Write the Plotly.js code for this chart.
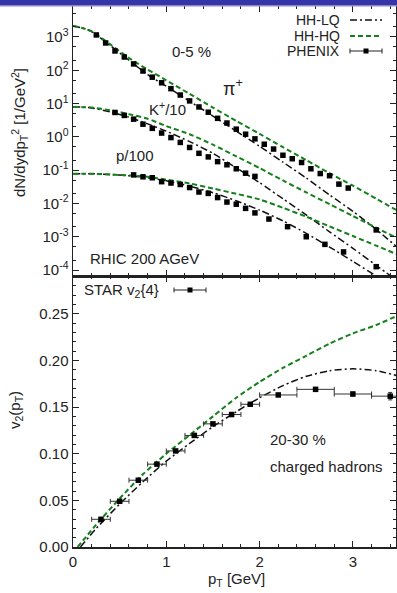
<!DOCTYPE html>
<html><head><meta charset="utf-8">
<script src="https://cdn.plot.ly/plotly-3.0.1.min.js"></script>
<style>html,body{margin:0;padding:0;background:#fff}#plot{width:397px;height:593px}</style>
</head><body><div id="plot"></div>
<script>
// ---- curves (x grid shared) ----
const curveX = [0,0.1,0.2,0.4,0.6,0.8,1.0,1.25,1.5,1.75,2.0,2.25,2.5,2.75,3.0,3.25,3.5];
const pionHQ = [2140,1860,1480,600,234,105,50,19.5,7.6,3.0,1.23,0.49,0.20,0.081,0.034,0.0138,0.0056];
const pionLQ = [2140,1860,1450,550,200,74,33,11.7,4.2,1.48,0.52,0.174,0.058,0.018,0.0058,0.00166,0.00042];
const kaonHQ = [7.9,7.8,7.6,6.3,4.8,3.5,2.1,1.2,0.58,0.26,0.115,0.049,0.0214,0.0095,0.0042,0.00186,0.00083];
const kaonLQ = [7.9,7.8,7.4,5.6,3.9,2.45,1.48,0.72,0.32,0.117,0.042,0.0138,0.0045,0.0014,0.00045,0.000138,0.0000427];
const protHQ = [0.078,0.078,0.078,0.074,0.069,0.063,0.052,0.040,0.028,0.0195,0.0132,0.0074,0.0040,0.00204,0.00105,0.00054,0.000275];
const protLQ = [0.078,0.078,0.078,0.074,0.068,0.059,0.048,0.033,0.021,0.012,0.0063,0.0030,0.00126,0.00049,0.000182,0.000066,0.000024];

// ---- PHENIX data ----
const pionX = [0.25,0.35,0.45,0.55,0.65,0.75,0.85,0.95,1.05,1.15,1.25,1.35,1.45,1.55,1.65,1.75,1.85,1.95,2.05,2.15,2.25,2.35,2.45,2.55,2.65,2.75,2.85,2.95];
const pionY = [1150,660,380,250,155,95,62,42,28,18,12,7.9,5.5,3.6,2.6,1.7,1.2,0.87,0.60,0.43,0.28,0.22,0.17,0.11,0.079,0.068,0.038,0.029];
const kaonX = [0.45,0.55,0.65,0.75,0.85,0.95,1.05,1.15,1.25,1.35,1.45,1.55,1.65,1.75,1.85,1.95,3.25];
const kaonY = [5.4,4.4,3.4,2.4,1.8,1.3,0.95,0.68,0.48,0.32,0.25,0.18,0.145,0.11,0.081,0.065,0.0016];
const protX = [0.65,0.75,0.85,0.95,1.05,1.15,1.25,1.35,1.45,1.55,1.65,1.75,1.85,1.95,2.1,2.3,2.5,2.7,2.9,3.25];
const protY = [0.072,0.063,0.059,0.045,0.041,0.037,0.030,0.022,0.020,0.015,0.011,0.0095,0.0071,0.0052,0.0034,0.0020,0.0010,0.00059,0.00035,0.000126];

// ---- v2 ----
const v2X_HQ = [0.05,0.25,0.5,0.75,1.0,1.25,1.5,1.75,2.0,2.25,2.5,2.75,3.0,3.25,3.5];
const v2HQ   = [0,0.024,0.052,0.078,0.100,0.120,0.140,0.160,0.177,0.192,0.205,0.218,0.229,0.238,0.249];
const v2X_LQ = [0.08,0.25,0.5,0.75,1.0,1.25,1.5,1.75,2.0,2.25,2.5,2.75,3.0,3.25,3.5];
const v2LQ   = [0,0.020,0.046,0.070,0.092,0.111,0.129,0.145,0.160,0.173,0.183,0.189,0.191,0.189,0.183];
const starX  = [0.3,0.5,0.7,0.9,1.1,1.3,1.5,1.7,1.9,2.2,2.6,3.0,3.4];
const starV2 = [0.0297,0.049,0.0716,0.0888,0.103,0.1196,0.132,0.142,0.153,0.163,0.169,0.164,0.1617];
const starXerr = [0.1,0.1,0.1,0.1,0.1,0.1,0.1,0.1,0.1,0.2,0.2,0.2,0.2];
const starYerr = [0.001,0.001,0.001,0.001,0.001,0.001,0.001,0.001,0.001,0.001,0.002,0.002,0.004];

const logTickVals = [1e-4,1e-3,1e-2,1e-1,1,10,100,1000];
const logTickText = ['10<sup>-4</sup>','10<sup>-3</sup>','10<sup>-2</sup>','10<sup>-1</sup>','10<sup>0</sup>','10<sup>1</sup>','10<sup>2</sup>','10<sup>3</sup>'];

const GREEN = '#14801a', BLACK = '#111';
const DD = '7px,3px,2px,3px', DA = '5px,3px';
const W=397,H=593,L=73,R=1,T=6,B=46,PW=W-L-R,PH=H-T-B;
const px = x => (x-L)/PW, py = y => (H-B-y)/PH;

function line(x,y,dash,color,w,xa,ya){return {x:x,y:y,mode:'lines',type:'scatter',line:{color:color,width:w,dash:dash,shape:'spline',smoothing:0.6},xaxis:xa,yaxis:ya,hoverinfo:'skip',showlegend:false};}
function pts(x,y,xa,ya){return {x:x,y:y,mode:'markers',type:'scatter',marker:{symbol:'square',size:5.5,color:'#000'},xaxis:xa,yaxis:ya,showlegend:false};}

const data = [
  line(curveX,pionLQ,DD,BLACK,1.5,'x2','y2'),
  line(curveX,kaonLQ,DD,BLACK,1.5,'x2','y2'),
  line(curveX,protLQ,DD,BLACK,1.5,'x2','y2'),
  line(curveX,pionHQ,DA,GREEN,2,'x2','y2'),
  line(curveX,kaonHQ,DA,GREEN,2,'x2','y2'),
  line(curveX,protHQ,DA,GREEN,2,'x2','y2'),
  pts(pionX,pionY,'x2','y2'),
  pts(kaonX,kaonY,'x2','y2'),
  pts(protX,protY,'x2','y2'),
  line(v2X_LQ,v2LQ,DD,BLACK,1.5,'x','y'),
  line(v2X_HQ,v2HQ,DA,GREEN,2,'x','y'),
  {x:starX,y:starV2,mode:'markers',type:'scatter',marker:{symbol:'square',size:5.5,color:'#000'},
   error_x:{type:'data',array:starXerr,color:'#333',thickness:1,width:2.5},
   error_y:{type:'data',array:starYerr,color:'#333',thickness:1,width:2},
   xaxis:'x',yaxis:'y',showlegend:false}
];

const F = {family:'"Liberation Sans", Arial, Helvetica, sans-serif', size:15, color:'#222'};
const ax = {showline:true,linecolor:'#222',linewidth:1.5,mirror:'ticks',ticks:'inside',ticklen:6,tickcolor:'#222',tickwidth:1,showgrid:false,zeroline:false,tickfont:F};

const layout = {
  width:W,height:H,margin:{l:L,r:R,t:T,b:B},paper_bgcolor:'#fff',plot_bgcolor:'#fff',showlegend:false,
  font:F,
  xaxis: Object.assign({},ax,{range:[0,3.462],domain:[0,1],anchor:'y',tickvals:[0,1,2,3],minor:{dtick:0.2,ticks:'inside',ticklen:3,tickcolor:'#222'}}),
  yaxis: Object.assign({},ax,{range:[0,0.2905],domain:[0,0.5009],anchor:'x',dtick:0.05,tick0:0,tickformat:'.2f',minor:{dtick:0.01,ticks:'inside',ticklen:3,tickcolor:'#222'}}),
  xaxis2: Object.assign({},ax,{range:[0,3.462],domain:[0,1],anchor:'y2',tickvals:[0,1,2,3],showticklabels:false,minor:{dtick:0.2,ticks:'inside',ticklen:3,tickcolor:'#222'}}),
  yaxis2: Object.assign({},ax,{type:'log',range:[-4.18,3.93],domain:[0.5009,1],anchor:'x2',tickvals:logTickVals,ticktext:logTickText,minor:{ticks:'inside',ticklen:3,tickcolor:'#222'}}),
  shapes:[
    {type:'rect',xref:'paper',yref:'paper',x0:px(0),x1:px(W),y0:py(5),y1:py(0),fillcolor:'#3535a9',line:{width:0},layer:'above'},
    {type:'rect',xref:'paper',yref:'paper',x0:px(0),x1:px(W),y0:py(6.5),y1:py(5),fillcolor:'#8888cc',line:{width:0},layer:'above'},
    // legend samples top
    {type:'line',xref:'paper',yref:'paper',x0:px(350),x1:px(382),y0:py(20),y1:py(20),line:{color:BLACK,width:1.5,dash:DD}},
    {type:'line',xref:'paper',yref:'paper',x0:px(350),x1:px(382),y0:py(36),y1:py(36),line:{color:GREEN,width:2,dash:DA}},
    {type:'line',xref:'paper',yref:'paper',x0:px(350),x1:px(382),y0:py(51),y1:py(51),line:{color:'#222',width:1}},
    {type:'line',xref:'paper',yref:'paper',x0:px(350),x1:px(350),y0:py(48.5),y1:py(53.5),line:{color:'#222',width:1}},
    {type:'line',xref:'paper',yref:'paper',x0:px(382),x1:px(382),y0:py(48.5),y1:py(53.5),line:{color:'#222',width:1}},
    {type:'rect',xref:'paper',yref:'paper',x0:px(363.5),x1:px(368.5),y0:py(53.5),y1:py(48.5),fillcolor:'#000',line:{width:0}},
    // legend sample bottom
    {type:'line',xref:'paper',yref:'paper',x0:px(174),x1:px(206),y0:py(290),y1:py(290),line:{color:'#222',width:1}},
    {type:'line',xref:'paper',yref:'paper',x0:px(174),x1:px(174),y0:py(287.5),y1:py(292.5),line:{color:'#222',width:1}},
    {type:'line',xref:'paper',yref:'paper',x0:px(206),x1:px(206),y0:py(287.5),y1:py(292.5),line:{color:'#222',width:1}},
    {type:'rect',xref:'paper',yref:'paper',x0:px(187.5),x1:px(192.5),y0:py(292.5),y1:py(287.5),fillcolor:'#000',line:{width:0}}
  ],
  annotations:[
    {text:'HH-LQ',x:px(342),y:py(20),xanchor:'right',yanchor:'middle',font:{size:14}},
    {text:'HH-HQ',x:px(342),y:py(36),xanchor:'right',yanchor:'middle',font:{size:14}},
    {text:'PHENIX',x:px(342),y:py(51.5),xanchor:'right',yanchor:'middle',font:{size:14}},
    {text:'0-5 %',x:px(191),y:py(52),xanchor:'center',yanchor:'middle'},
    {text:'π<sup>+</sup>',x:px(233),y:py(87),xanchor:'center',yanchor:'middle',font:{size:18}},
    {text:'K<sup>+</sup>/10',x:px(167),y:py(109),xanchor:'center',yanchor:'middle'},
    {text:'p/100',x:px(135),y:py(155),xanchor:'center',yanchor:'middle'},
    {text:'RHIC 200 AGeV',x:px(88),y:py(258),xanchor:'left',yanchor:'middle'},
    {text:'STAR v<sub>2</sub>{4}',x:px(82),y:py(290),xanchor:'left',yanchor:'middle'},
    {text:'20-30 %',x:px(268),y:py(440),xanchor:'left',yanchor:'middle'},
    {text:'charged hadrons',x:px(268),y:py(466),xanchor:'left',yanchor:'middle'},
    {text:'dN/dydp<sub>T</sub><sup>2</sup> [1/GeV<sup>2</sup>]',x:px(19),y:py(133),textangle:-90,xanchor:'center',yanchor:'middle'},
    {text:'v<sub>2</sub>(p<sub>T</sub>)',x:px(15),y:py(410),textangle:-90,xanchor:'center',yanchor:'middle'},
    {text:'p<sub>T</sub> [GeV]',x:px(236),y:py(579),xanchor:'center',yanchor:'middle'}
  ].map(a=>Object.assign({xref:'paper',yref:'paper',showarrow:false},a,{font:Object.assign({},F,a.font||{})}))
};

Plotly.newPlot('plot',data,layout,{staticPlot:true,displayModeBar:false});
</script></body></html>
